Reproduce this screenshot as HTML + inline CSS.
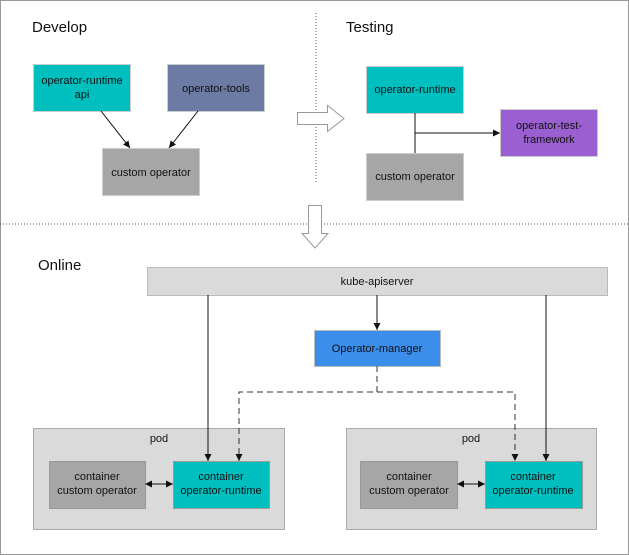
<!DOCTYPE html>
<html><head><meta charset="utf-8"><style>
html,body{margin:0;padding:0;background:#fff}
svg{display:block}
text{font-family:"Liberation Sans",Arial,sans-serif;font-size:11px;fill:#111}
</style></head><body>
<svg width="629" height="555" viewBox="0 0 629 555" xmlns="http://www.w3.org/2000/svg">
<defs>
<marker id="ah" markerWidth="8" markerHeight="8" refX="7" refY="4" orient="auto" markerUnits="userSpaceOnUse"><path d="M0,0.5 L7,4 L0,7.5 Z" fill="#111"/></marker>
<marker id="ahs" markerWidth="8" markerHeight="8" refX="1" refY="4" orient="auto" markerUnits="userSpaceOnUse"><path d="M7,0.5 L0,4 L7,7.5 Z" fill="#111"/></marker>
</defs>
<rect x="0.5" y="0.5" width="628" height="554" fill="#fff" stroke="#999"/>
<line x1="316" y1="13" x2="316" y2="183" stroke="#555" stroke-dasharray="1,2"/>
<line x1="0" y1="224" x2="629" y2="224" stroke="#555" stroke-dasharray="1,2"/>
<text x="32" y="32" style="font-size:15px">Develop</text>
<text x="346" y="32" style="font-size:15px">Testing</text>
<text x="38" y="270" style="font-size:15px">Online</text>

<rect x="33.5" y="64.5" width="97" height="47" fill="#00BFBF" stroke="#ccc"/>
<text x="82" y="84" text-anchor="middle">operator-runtime</text>
<text x="82" y="98" text-anchor="middle">api</text>
<rect x="167.5" y="64.5" width="97" height="47" fill="#6B7BA3" stroke="#ccc"/>
<text x="216" y="92" text-anchor="middle">operator-tools</text>
<rect x="102.5" y="148.5" width="97" height="47" fill="#A6A6A6" stroke="#ccc"/>
<text x="151" y="176" text-anchor="middle">custom operator</text>
<line x1="101" y1="111" x2="130" y2="148" stroke="#111" marker-end="url(#ah)"/>
<line x1="198" y1="111" x2="169" y2="148" stroke="#111" marker-end="url(#ah)"/>

<path d="M297.5,112.5 H327.5 V105.5 L344,118.5 L327.5,131.5 V124.5 H297.5 Z" fill="#fff" stroke="#999"/>

<rect x="366.5" y="66.5" width="97" height="47" fill="#00BFBF" stroke="#ccc"/>
<text x="415" y="93" text-anchor="middle">operator-runtime</text>
<rect x="366.5" y="153.5" width="97" height="47" fill="#A6A6A6" stroke="#ccc"/>
<text x="415" y="180" text-anchor="middle">custom operator</text>
<line x1="415" y1="113" x2="415" y2="153" stroke="#111"/>
<line x1="415" y1="133" x2="500" y2="133" stroke="#111" marker-end="url(#ah)"/>
<rect x="500.5" y="109.5" width="97" height="47" fill="#9A5FD0" stroke="#ccc"/>
<text x="549" y="129" text-anchor="middle">operator-test-</text>
<text x="549" y="143" text-anchor="middle">framework</text>

<path d="M308.5,205.5 H321.5 V233.5 H328 L315,248 L302,233.5 H308.5 Z" fill="#fff" stroke="#999"/>

<rect x="147.5" y="267.5" width="460" height="28" fill="#DADADA" stroke="#bbb"/>
<text x="377" y="285" text-anchor="middle">kube-apiserver</text>
<rect x="314.5" y="330.5" width="126" height="36" fill="#3B8EEA" stroke="#bbb"/>
<text x="377" y="352" text-anchor="middle">Operator-manager</text>
<line x1="377" y1="295" x2="377" y2="330" stroke="#111" marker-end="url(#ah)"/>

<rect x="33.5" y="428.5" width="251" height="101" fill="#DADADA" stroke="#aaa"/>
<text x="159" y="442" text-anchor="middle">pod</text>
<rect x="346.5" y="428.5" width="250" height="101" fill="#DADADA" stroke="#aaa"/>
<text x="471" y="442" text-anchor="middle">pod</text>

<rect x="49.5" y="461.5" width="96" height="47" fill="#A6A6A6" stroke="#999"/>
<text x="97" y="480" text-anchor="middle">container</text>
<text x="97" y="494" text-anchor="middle">custom operator</text>
<rect x="173.5" y="461.5" width="96" height="47" fill="#00BFBF" stroke="#999"/>
<text x="221" y="480" text-anchor="middle">container</text>
<text x="221" y="494" text-anchor="middle">operator-runtime</text>
<rect x="360.5" y="461.5" width="97" height="47" fill="#A6A6A6" stroke="#999"/>
<text x="409" y="480" text-anchor="middle">container</text>
<text x="409" y="494" text-anchor="middle">custom operator</text>
<rect x="485.5" y="461.5" width="97" height="47" fill="#00BFBF" stroke="#999"/>
<text x="533" y="480" text-anchor="middle">container</text>
<text x="533" y="494" text-anchor="middle">operator-runtime</text>

<line x1="146" y1="484" x2="173" y2="484" stroke="#111" marker-end="url(#ah)" marker-start="url(#ahs)"/>
<line x1="458" y1="484" x2="485" y2="484" stroke="#111" marker-end="url(#ah)" marker-start="url(#ahs)"/>

<line x1="208" y1="295" x2="208" y2="461" stroke="#111" marker-end="url(#ah)"/>
<line x1="546" y1="295" x2="546" y2="461" stroke="#111" marker-end="url(#ah)"/>
<path d="M377,366 V392 H239 V461" fill="none" stroke="#333" stroke-dasharray="6,4" marker-end="url(#ah)"/>
<path d="M377,392 H515 V461" fill="none" stroke="#333" stroke-dasharray="6,4" marker-end="url(#ah)"/>
</svg>
</body></html>
